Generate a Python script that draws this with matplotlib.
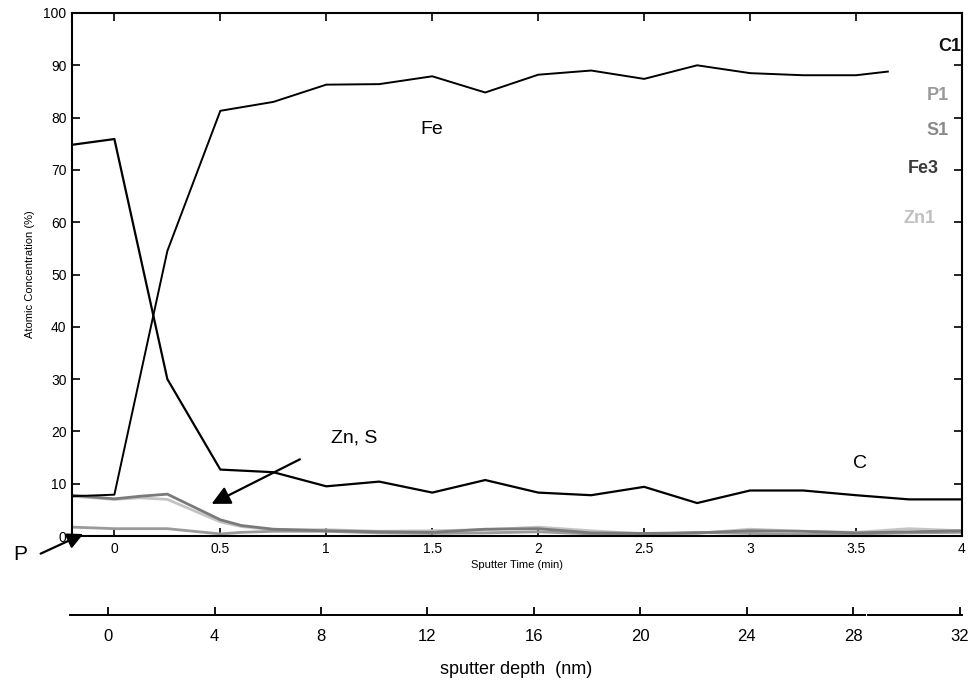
import numpy as np
import matplotlib
matplotlib.use('Agg')
from matplotlib import pyplot as plt

plt.rcParams['font.family'] = ['Liberation Sans', 'DejaVu Sans']

# sputter time (min)
t_main = [-0.2, 0, 0.25, 0.5, 0.75, 1.0, 1.25, 1.5, 1.75, 2.0, 2.25, 2.5, 2.75, 3.0, 3.25, 3.5, 3.75, 4.0]
c1 = [74.8, 75.9, 30.0, 12.7, 12.2, 9.5, 10.4, 8.3, 10.7, 8.3, 7.8, 9.4, 6.3, 8.7, 8.7, 7.8, 7.0, 7.0]

t_fe = [-0.2, 0, 0.25, 0.5, 0.75, 1.0, 1.25, 1.5, 1.75, 2.0, 2.25, 2.5, 2.75, 3.0, 3.25, 3.5, 3.65]
fe3 = [7.6, 7.9, 54.5, 81.3, 83.0, 86.3, 86.4, 87.9, 84.8, 88.2, 89.0, 87.4, 90.0, 88.5, 88.1, 88.1, 88.8]

t_low = [-0.2, 0, 0.12, 0.25, 0.5, 0.6, 0.75, 1.0, 1.25, 1.5, 1.75, 2.0, 2.25, 2.5, 2.75, 3.0, 3.25, 3.5, 3.75, 4.0]
s1 = [7.8, 7.1, 7.6, 8.0, 3.1, 2.0, 1.3, 1.0, 0.8, 0.7, 1.3, 1.4, 0.6, 0.5, 0.6, 1.0, 0.9, 0.6, 0.8, 1.0]
zn1 = [7.6, 7.0, 7.3, 7.0, 2.7, 1.8, 1.2, 1.2, 0.9, 1.0, 1.2, 1.7, 1.0, 0.4, 0.5, 1.3, 0.9, 0.7, 1.4, 1.0]
p1 = [1.7, 1.4, 1.4, 1.4, 0.4, 0.7, 0.9, 0.9, 0.6, 0.5, 0.6, 0.8, 0.4, 0.3, 0.7, 0.5, 0.3, 0.4, 0.6, 0.7]

x_ticks = [0, 0.5, 1, 1.5, 2, 2.5, 3, 3.5, 4]
x_labels = ['0', '0.5', '1', '1.5', '2', '2.5', '3', '3.5', '4']
y_ticks = list(range(0, 101, 10))
depth_ticks = [0, 4, 8, 12, 16, 20, 24, 28, 32]

legend_names = ['C1', 'P1', 'S1', 'Fe3', 'Zn1']
legend_cols = ['#111111', '#9a9a9a', '#8a8a8a', '#3a3a3a', '#c0c0c0']

fig = plt.figure(figsize=(9.68, 6.87), dpi=100)
ax = fig.add_axes([72/968, 1-536/687, 890/968, 523/687])

ax.plot(t_low, zn1, color='#c4c4c4', lw=2)
ax.plot(t_low, p1, color='#9a9a9a', lw=2)
ax.plot(t_low, s1, color='#7a7a7a', lw=2)
ax.plot(t_main, c1, color='black', lw=1.6)
ax.plot(t_fe, fe3, color='black', lw=1.4)

ax.set_xlim(-0.2, 4)
ax.set_ylim(0, 100)
ax.set_xticks(x_ticks)
ax.set_xticklabels(x_labels)
ax.set_yticks(y_ticks)
ax.tick_params(direction='in', top=True, right=True, length=6, width=1.2,
               labelsize=10, pad=4)
for s in ax.spines.values():
    s.set_linewidth(1.5)
ax.set_xlabel('Sputter Time (min)', fontsize=8, labelpad=3)
ax.set_ylabel('Atomic Concentration (%)', fontsize=8, labelpad=6)

# annotations
ax.text(1.5, 77.8, 'Fe', fontsize=14, ha='center', va='center')
ax.text(3.52, 13.8, 'C', fontsize=14, ha='center', va='center')
ax.annotate('', xy=(0.447, 5.9), xytext=(0.887, 14.9),
            arrowprops=dict(arrowstyle='-|>', mutation_scale=28, color='black', lw=1.6))
ax.text(1.02, 18.8, 'Zn, S', fontsize=14, ha='left', va='center')
ax.annotate('', xy=(-0.135, 0.6), xytext=(-0.36, -3.6), annotation_clip=False,
            arrowprops=dict(arrowstyle='-|>', mutation_scale=24, color='black', lw=1.6))
ax.text(-0.445, -3.6, 'P', fontsize=15, ha='center', va='center', clip_on=False)

# legend-like labels at right
leg_y = [93.5, 84.3, 77.6, 70.2, 60.8]
leg_x = [0.999, 0.985, 0.985, 0.974, 0.97]
for name, col, yy, xx in zip(legend_names, legend_cols, leg_y, leg_x):
    ax.text(xx, yy, name, color=col, fontsize=13, fontweight='bold',
            ha='right', va='center', transform=ax.get_yaxis_transform())

# sputter depth axis
ax2 = fig.add_axes([70/968, 1-615/687, 892/968, 0.001])
ax2.set_xlim(-1.43, 32.08)
ax2.set_ylim(0, 1)
for k in ['top', 'left', 'right', 'bottom']:
    ax2.spines[k].set_visible(False)
gap = (28.5 + 1.43) / 33.51
ax2.axhline(0, xmin=0, xmax=gap - 0.002, color='black', lw=1.4, clip_on=False)
ax2.axhline(0, xmin=gap + 0.002, xmax=1, color='black', lw=1.4, clip_on=False)
ax2.set_yticks([])
ax2.set_xticks(depth_ticks)
ax2.tick_params(axis='x', direction='in', length=6, width=1.3, labelsize=12, pad=10)
ax2.set_xlabel('sputter depth  (nm)', fontsize=13, labelpad=12)

fig.savefig('out.png', dpi=100)
